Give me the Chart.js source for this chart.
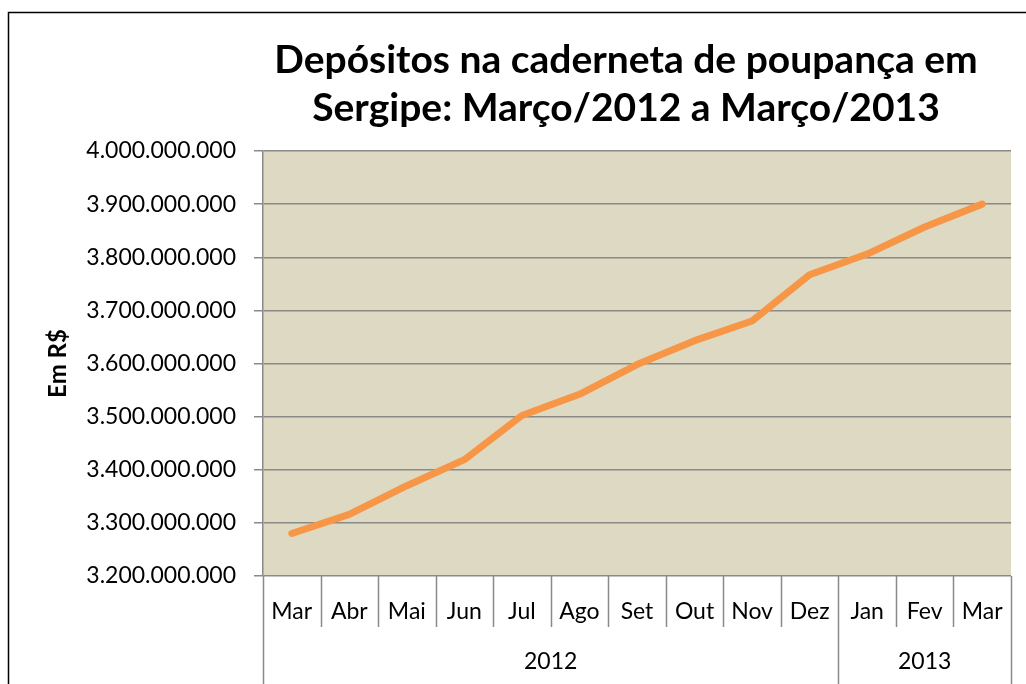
<!DOCTYPE html>
<html>
<head>
<meta charset="utf-8">
<script src="https://cdn.jsdelivr.net/npm/chart.js@4"></script>
<style>
  html, body { margin: 0; padding: 0; background: #fff; overflow: hidden; }
  canvas { display: block; }
</style>
</head>
<body>
<canvas id="myChart" width="1026" height="684"></canvas>
<script>
// data
const months = ["Mar", "Abr", "Mai", "Jun", "Jul", "Ago", "Set", "Out", "Nov", "Dez", "Jan", "Fev", "Mar"]
const yearLabels = ["2012", "2013"]
const yearSpans = [10, 3]   // how many months fall under each year
const deposits = [3280000000, 3316000000, 3370000000, 3419000000, 3502000000, 3542000000, 3598000000,
                  3643000000, 3680000000, 3767000000, 3806000000, 3857000000, 3900000000]
const yMin = 3200000000
const yMax = 4000000000
const yStep = 100000000
const titleLines = ["Depósitos na caderneta de poupança em", "Sergipe: Março/2012 a Março/2013"]
const yTitle = "Em R$"

const gridGray = '#8a8a8a'
const fontFamily = 'Lato, "Open Sans", sans-serif'

function formatBR(v){
  return String(v).replace(/\B(?=(\d{3})+(?!\d))/g, '.')
}

const excelLook = {
  id: 'excelLook',
  beforeDraw(chart){
    const {ctx, chartArea: a} = chart
    ctx.save()
    ctx.fillStyle = '#fff'
    ctx.fillRect(0, 0, chart.width, chart.height)
    ctx.fillStyle = '#DDD9C3'
    ctx.fillRect(a.left, a.top, a.right - a.left, a.bottom - a.top)
    ctx.restore()
  },
  afterDraw(chart){
    const {ctx, chartArea: a} = chart
    const x = chart.scales.x
    const half = (x.getPixelForValue(1) - x.getPixelForValue(0)) / 2
    const edgeAt = i => i < months.length ? x.getPixelForValue(i) - half : x.getPixelForValue(i - 1) + half

    // which separators run down through the year row
    const groupEdges = [0]
    yearSpans.forEach(n => groupEdges.push(groupEdges[groupEdges.length - 1] + n))

    ctx.save()
    ctx.strokeStyle = gridGray
    ctx.lineWidth = 1.5
    for (let i = 0; i <= months.length; i++){
      const px = Math.round(edgeAt(i)) + 0.5
      const bottom = groupEdges.includes(i) ? chart.height : a.bottom + 51
      ctx.beginPath()
      ctx.moveTo(px, a.bottom)
      ctx.lineTo(px, bottom)
      ctx.stroke()
    }

    // year labels
    ctx.fillStyle = '#000'
    ctx.font = '23px ' + fontFamily
    ctx.textAlign = 'center'
    ctx.textBaseline = 'middle'
    yearLabels.forEach((label, g) => {
      const cx = (edgeAt(groupEdges[g]) + edgeAt(groupEdges[g + 1])) / 2
      ctx.fillText(label, cx, a.bottom + 86)
    })

    // chart title
    ctx.font = 'bold 39px ' + fontFamily
    ctx.textBaseline = 'alphabetic'
    ctx.fillText(titleLines[0], 626, 73)
    ctx.fillText(titleLines[1], 626, 121)

    // keep the strip right of the plot clean
    ctx.fillStyle = '#fff'
    ctx.fillRect(a.right + 2, 14, chart.width - a.right - 2, chart.height - 14)

    // outer chart border: only left and top edges are inside the picture
    ctx.strokeStyle = '#000'
    ctx.lineWidth = 1.5
    ctx.beginPath()
    ctx.moveTo(8.5, chart.height)
    ctx.lineTo(8.5, 12.5)
    ctx.lineTo(chart.width, 12.5)
    ctx.stroke()
    ctx.restore()
  }
}

const ctx = document.getElementById('myChart').getContext('2d')
const chart = new Chart(ctx, {
  type: 'line',
  data: {
    labels: months,
    datasets: [{
      data: deposits,
      borderColor: '#F79646',
      borderWidth: 7,
      borderCapStyle: 'round',
      borderJoinStyle: 'round',
      pointRadius: 0,
      tension: 0,
      fill: false
    }]
  },
  options: {
    responsive: false,
    animation: false,
    layout: { padding: { left: 20, right: 15, top: 151, bottom: 0 } },
    plugins: {
      legend: { display: false },
      title: { display: false },
      tooltip: { enabled: false }
    },
    scales: {
      x: {
        offset: true,
        grid: { display: false },
        border: { display: false },
        ticks: {
          color: '#000',
          font: { family: fontFamily, size: 23 },
          padding: 14,
          maxRotation: 0,
          autoSkip: false
        },
        afterFit(scale){ scale.height = 108 }
      },
      y: {
        min: yMin,
        max: yMax,
        grid: { color: gridGray, lineWidth: 1.5, tickLength: 9, tickColor: gridGray },
        border: { color: gridGray, width: 1.5 },
        ticks: {
          stepSize: yStep,
          color: '#000',
          padding: 18,
          font: { family: fontFamily, size: 23 },
          callback: v => formatBR(v)
        },
        title: {
          display: true,
          text: yTitle,
          color: '#000',
          font: { family: fontFamily, size: 24, weight: 'bold' },
          padding: { top: 24, bottom: 0 }
        },
        afterFit(scale){ scale.width = 243 }
      }
    }
  },
  plugins: [excelLook]
})
</script>
</body>
</html>
